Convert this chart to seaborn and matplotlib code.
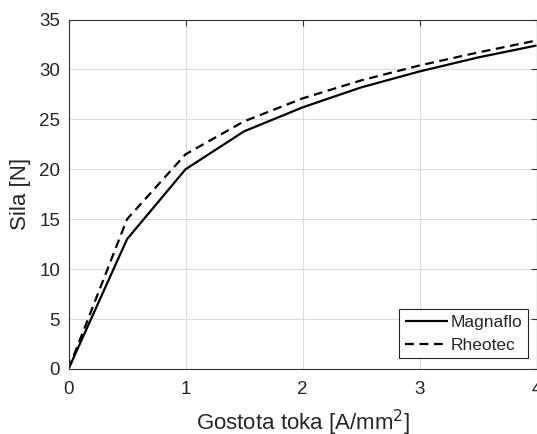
import matplotlib
matplotlib.use("Agg")
import matplotlib.pyplot as plt
import seaborn as sns
import pandas as pd

x_magnaflo = [0, 0.5, 1, 1.5, 2, 2.5, 3, 3.5, 4]
y_magnaflo = [0, 13.0, 20.0, 23.8, 26.2, 28.2, 29.8, 31.2, 32.4]
x_rheotec = [0, 0.5, 1, 1.5, 2, 2.5, 3, 3.5, 4]
y_rheotec = [0, 15.0, 21.5, 24.8, 27.1, 28.9, 30.4, 31.7, 32.9]
series_names = ["Magnaflo", "Rheotec"]
x_ticks = [0, 1, 2, 3, 4]
y_ticks = [0, 5, 10, 15, 20, 25, 30, 35]

df = pd.concat([
    pd.DataFrame({"x": x_magnaflo, "y": y_magnaflo, "s": series_names[0]}),
    pd.DataFrame({"x": x_rheotec, "y": y_rheotec, "s": series_names[1]}),
])

sns.set_style("white")
plt.rcParams["font.family"] = ["Liberation Sans", "DejaVu Sans"]

fig = plt.figure(figsize=(5.37, 4.34), dpi=100)
ax = fig.add_axes([0.1276, 0.1498, 0.8715, 0.8052])
sns.lineplot(data=df, x="x", y="y", hue="s", style="s",
             palette=["black", "black"], dashes=[(1, 0), (4, 2.5)],
             linewidth=1.6, ax=ax, sort=False)
ax.set_xlim(0, 4)
ax.set_ylim(0, 35)
ax.set_xticks(x_ticks)
ax.set_yticks(y_ticks)
ax.grid(True, color="#dcdcdc", linewidth=0.8)
ax.tick_params(direction="in", length=4, color="#333333", labelsize=13.5,
               labelcolor="#262626", top=True, right=True)
ax.tick_params(axis="y", pad=6)
ax.tick_params(axis="x", pad=9)
for sp in ax.spines.values():
    sp.set_color("#333333")
    sp.set_linewidth(0.8)
ax.set_xlabel("Gostota toka [A/mm$^2$]", fontsize=16, color="#262626")
ax.set_ylabel("Sila [N]", fontsize=16, color="#262626", labelpad=6)
ax.xaxis.set_label_coords(0.5, -0.112)
leg = ax.legend(loc="lower right", fontsize=12.5, frameon=True, fancybox=False,
                edgecolor="#262626", framealpha=1, borderpad=0.3,
                handlelength=2.5, handletextpad=0.15, labelspacing=0.45,
                borderaxespad=0, bbox_to_anchor=(0.981, 0.032))
leg.get_frame().set_linewidth(0.8)
fig.savefig("out.png", dpi=100)
